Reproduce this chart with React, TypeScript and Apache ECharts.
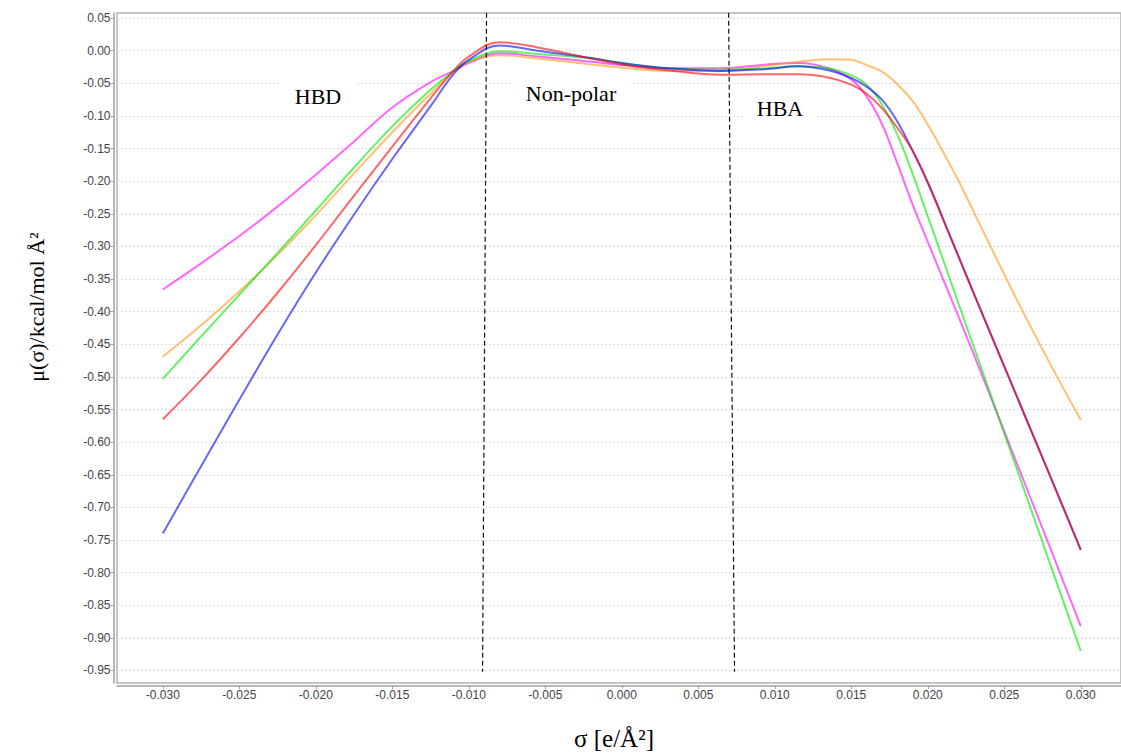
import React, { useEffect, useRef } from 'react';
import * as echarts from 'echarts';

// σ values (e/Å²) at which curves were read
const sigma = [-0.030, -0.0275, -0.025, -0.0225, -0.020, -0.0175, -0.015, -0.0125, -0.011, -0.010, -0.008, -0.0055, -0.002, 0.000, 0.003, 0.0065, 0.0095, 0.0115, 0.0135, 0.015, 0.016, 0.017, 0.018, 0.019, 0.020, 0.021, 0.022, 0.024, 0.026, 0.028, 0.030];

const magentaVals = [-0.366, -0.326, -0.284, -0.239, -0.190, -0.139, -0.087, -0.048, -0.031, -0.019, -0.004, -0.009, -0.017, -0.022, -0.027, -0.027, -0.021, -0.019, -0.027, -0.044, -0.070, -0.112, -0.172, -0.235, -0.293, -0.350, -0.407, -0.524, -0.643, -0.762, -0.882];
const orangeVals = [-0.469, -0.421, -0.369, -0.313, -0.252, -0.188, -0.125, -0.066, -0.032, -0.017, -0.007, -0.012, -0.021, -0.026, -0.031, -0.031, -0.023, -0.017, -0.013, -0.014, -0.022, -0.032, -0.051, -0.077, -0.113, -0.155, -0.199, -0.295, -0.390, -0.480, -0.566];
const greenVals = [-0.503, -0.438, -0.374, -0.310, -0.245, -0.179, -0.116, -0.060, -0.031, -0.016, -0.001, -0.005, -0.012, -0.019, -0.027, -0.029, -0.027, -0.024, -0.027, -0.038, -0.052, -0.082, -0.128, -0.188, -0.254, -0.320, -0.387, -0.520, -0.653, -0.787, -0.920];
const blueVals = [-0.740, -0.637, -0.535, -0.435, -0.340, -0.251, -0.166, -0.085, -0.036, -0.014, 0.008, 0.000, -0.011, -0.019, -0.027, -0.031, -0.028, -0.024, -0.030, -0.042, -0.055, -0.075, -0.108, -0.153, -0.202, -0.258, -0.315, -0.428, -0.540, -0.652, -0.765];
const redVals = [-0.565, -0.505, -0.440, -0.371, -0.298, -0.222, -0.147, -0.073, -0.031, -0.009, 0.013, 0.005, -0.012, -0.021, -0.030, -0.037, -0.036, -0.036, -0.041, -0.052, -0.066, -0.088, -0.118, -0.153, -0.202, -0.258, -0.315, -0.428, -0.540, -0.652, -0.765];

const xTicks = [-0.030, -0.025, -0.020, -0.015, -0.010, -0.005, 0.000, 0.005, 0.010, 0.015, 0.020, 0.025, 0.030];
const yTicks = [0.05, 0.00, -0.05, -0.10, -0.15, -0.20, -0.25, -0.30, -0.35, -0.40, -0.45, -0.50, -0.55, -0.60, -0.65, -0.70, -0.75, -0.80, -0.85, -0.90, -0.95];

// region dividers (dashed): [σ at top, σ at bottom] and [top value, bottom value]
const dividerA = [-0.00884, -0.0091];
const dividerB = [0.00698, 0.00737];
const dividerSpan = [0.058, -0.952];
const regionLabels = ['HBD', 'Non-polar', 'HBA'];

const seriesDefs = [
  { name: 'S1', color: 'rgba(255,0,255,0.6)', vals: magentaVals },
  { name: 'S2', color: 'rgba(255,150,20,0.6)', vals: orangeVals },
  { name: 'S3', color: 'rgba(0,230,0,0.6)', vals: greenVals },
  { name: 'S4', color: 'rgba(0,0,255,0.6)', vals: blueVals },
  { name: 'S5', color: 'rgba(255,0,0,0.6)', vals: redVals },
];

export default function App() {
  const ref = useRef<HTMLDivElement>(null);
  useEffect(() => {
    if (!ref.current) return;
    const chart = echarts.init(ref.current, null, { renderer: 'svg' });
    const labelFont = { fontFamily: 'Liberation Sans', fontSize: 12, color: '#444' };
    const series: any[] = seriesDefs.map((s, idx) => ({
      name: s.name,
      type: 'line',
      data: sigma.map((x, i) => [x, s.vals[i]]),
      showSymbol: false,
      smooth: 0.4,
      lineStyle: { color: s.color, width: 2 },
      itemStyle: { color: s.color },
      z: 3 + idx,
    }));
    [dividerA, dividerB].forEach((d, i) => {
      series.push({
        name: 'divider' + i,
        type: 'line',
        data: [[d[0], dividerSpan[0]], [d[1], dividerSpan[1]]],
        showSymbol: false,
        silent: true,
        lineStyle: { color: '#111', type: [5, 3], width: 1.2 },
        z: 10,
      });
    });

    chart.setOption({
      animation: false,
      backgroundColor: '#fff',
      grid: {
        left: 117, top: 13, width: 1008, height: 670,
        show: true, borderColor: '#b4b4b4', borderWidth: 1.5,
      },
      xAxis: {
        type: 'value',
        min: -0.032995, max: 0.03263,
        offset: 3,
        axisLine: { show: true, onZero: false, lineStyle: { color: '#a0a0a0', width: 1.5 } },
        axisTick: { show: true, length: 3, customValues: xTicks, lineStyle: { color: '#a0a0a0' } },
        axisLabel: { ...labelFont, margin: 3, customValues: xTicks, formatter: (v: number) => v.toFixed(3) },
        splitLine: { show: false },
      },
      yAxis: {
        type: 'value',
        min: -0.96919, max: 0.05779,
        offset: 3.5,
        axisLine: { show: true, onZero: false, lineStyle: { color: '#a0a0a0', width: 1.5 } },
        axisTick: { show: true, length: 3, customValues: yTicks, lineStyle: { color: '#a0a0a0' } },
        axisLabel: { ...labelFont, margin: 3, customValues: yTicks, formatter: (v: number) => v.toFixed(2) },
        splitLine: { show: true, lineStyle: { color: '#dcdcdc', type: [2, 2], width: 1 } },
      },
      graphic: [
        {
          type: 'text', x: 318, y: 96, z: 1,
          style: {
            text: regionLabels[0], font: '22px "Liberation Serif"', fill: '#000',
            align: 'center', verticalAlign: 'middle', backgroundColor: '#fff', padding: [8, 16],
          },
        },
        {
          type: 'text', x: 571, y: 93, z: 1,
          style: {
            text: regionLabels[1], font: '22px "Liberation Serif"', fill: '#000',
            align: 'center', verticalAlign: 'middle', backgroundColor: '#fff', padding: [8, 14],
          },
        },
        {
          type: 'text', x: 780, y: 108, z: 1,
          style: {
            text: regionLabels[2], font: '22px "Liberation Serif"', fill: '#000',
            align: 'center', verticalAlign: 'middle', backgroundColor: '#fff', padding: [8, 14],
          },
        },
        {
          type: 'text', x: 614, y: 738,
          style: {
            text: 'σ [e/Å²]', font: '25px "Liberation Serif"', fill: '#000',
            align: 'center', verticalAlign: 'middle',
          },
        },
        {
          type: 'text', x: 36, y: 307, rotation: Math.PI / 2,
          style: {
            text: 'μ(σ)/kcal/mol Å²', font: '22px "Liberation Serif"', fill: '#000',
            align: 'center', verticalAlign: 'middle',
          },
        },
      ],
      series,
    });
    return () => chart.dispose();
  }, []);
  return <div ref={ref} style={{ position: 'absolute', left: 0, top: 0, width: 1121, height: 754 }} />;
}
